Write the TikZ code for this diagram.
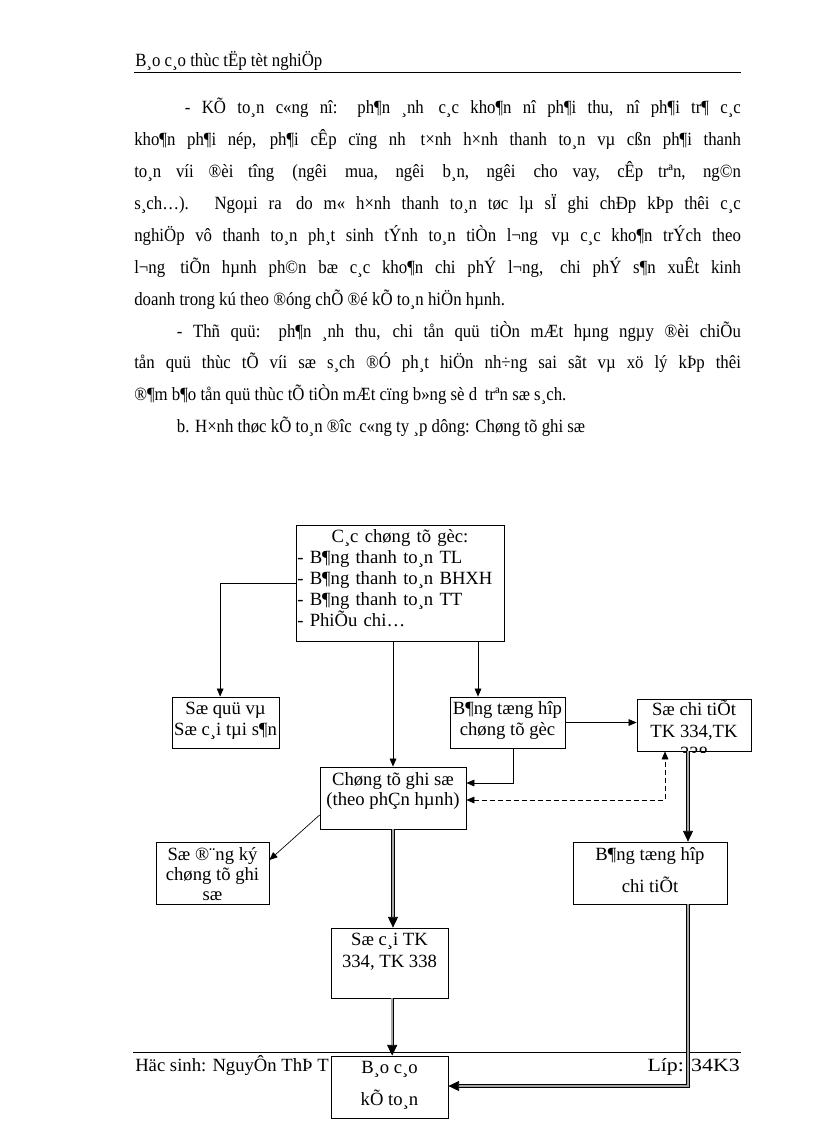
\documentclass[tikz,border=0pt]{standalone}
\usepackage{fontspec}
\setmainfont{Liberation Serif}
\newfontfamily\bodyfont[FakeStretch=0.9]{Liberation Serif}
\newfontfamily\classfont[FakeStretch=1.17]{Liberation Serif}
\usetikzlibrary{arrows.meta}

% struts that fix where the lines sit in a box
\newcommand{\boxtop}[1]{\rule{0pt}{#1}}
\newcommand{\boxbot}[1]{\rule[-#1]{0pt}{#1}}
% the wider gap Word leaves after some words
\newcommand{\gap}{\hspace{2.5pt} }

\begin{document}
\begin{tikzpicture}[
            x=0.75pt, y=-0.75pt,
            box/.style={rectangle, draw, line width=0.6pt, fill=white, align=center, inner xsep=1pt, inner ysep=0pt, font=\fontsize{14}{#1}\selectfont},
            box/.default=15.75pt,
            arrow/.style={-{Triangle[length=6pt, width=5pt]}, line width=0.5pt},
            dasharrow/.style={{Triangle[length=6pt, width=5pt]}-{Triangle[length=6pt, width=5pt]}, line width=0.5pt, dash pattern=on 3.5pt off 2.5pt},
            dblarrow/.style={-{Triangle[length=8pt, width=7.5pt]}, line width=0.5pt, double=gray!70, double distance=1.5pt},
            pagetext/.style={inner sep=0pt, font=\fontsize{14}{16}\bodyfont}
        ]
\useasboundingbox (0,0) rectangle (816,1123);

% Page header
            \node[pagetext, anchor=base west] (header) at (135,67) {B¸o c¸o thùc tËp tèt nghiÖp};
            \draw[line width=0.6pt] (134,72) -- (741,72);

% Body text
            \node[pagetext, anchor=base west, text width=455pt, align=justify, font=\fontsize{14}{23.9}\bodyfont] (bodytext) at (134,114) {%
\hspace*{38pt}- KÕ to¸n c«ng nî: ph¶n ¸nh\gap c¸c kho¶n nî ph¶i thu, nî ph¶i tr¶ c¸c\linebreak
kho¶n ph¶i nép, ph¶i cÊp cïng nh\gap t×nh h×nh thanh to¸n vµ cßn ph¶i thanh\linebreak
to¸n víi ®èi tîng\gap (ngêi\gap mua, ngêi\gap b¸n, ngêi\gap cho vay, cÊp trªn, ng©n\linebreak
s¸ch…). Ngoµi ra\gap do m« h×nh thanh to¸n tøc lµ sÏ ghi chÐp kÞp thêi c¸c\linebreak
nghiÖp vô thanh to¸n ph¸t sinh tÝnh to¸n tiÒn l¬ng\gap vµ c¸c kho¶n trÝch theo\linebreak
l¬ng\gap tiÕn hµnh ph©n bæ c¸c kho¶n chi phÝ l¬ng,\gap chi phÝ s¶n xuÊt kinh\linebreak
doanh trong kú theo ®óng chÕ ®é kÕ to¸n hiÖn hµnh.\par
\hspace*{32pt}- Thñ quü: ph¶n ¸nh thu, chi tån quü tiÒn mÆt hµng ngµy ®èi chiÕu\linebreak
tån quü thùc tÕ víi sæ s¸ch ®Ó ph¸t hiÖn nh÷ng sai sãt vµ xö lý kÞp thêi\linebreak
®¶m b¶o tån quü thùc tÕ tiÒn mÆt cïng b»ng sè d\gap trªn sæ s¸ch.\par
\hspace*{32pt}b. H×nh thøc kÕ to¸n ®îc\gap c«ng ty ¸p dông: Chøng tõ ghi sæ};

% Page footer
            \draw[line width=0.6pt] (133,1052) -- (741,1052);
            \node[pagetext, anchor=base west, font=\fontsize{14}{16}\selectfont] (student) at (135,1071) {Häc sinh: NguyÔn ThÞ T};
            \node[pagetext, anchor=base east, font=\fontsize{14}{16}\classfont] (class) at (740,1071) {Líp: 34K3};

% Boxes
            \node[box, text width=154pt, align=left] (goc) at (400,583) {\boxtop{12.75pt}\makebox[154pt]{C¸c chøng tõ gèc:}\\- B¶ng thanh to¸n TL\\- B¶ng thanh to¸n BHXH\\- B¶ng thanh to¸n TT\\- PhiÕu chi…\boxbot{11.25pt}};
            \node[box, minimum width=80.25pt] (soquy) at (225.5,722.5) {\boxtop{12.75pt}Sæ quü vµ\\Sæ c¸i tµi s¶n\boxbot{9.75pt}};
            \node[box, minimum width=86.25pt] (tonghop) at (507.5,722.5) {\boxtop{12.75pt}B¶ng tæng hîp\\chøng tõ gèc\boxbot{9.75pt}};
            \node[box=16.5pt, minimum width=85.5pt] (chitiet) at (694,725) {\boxtop{12pt}Sæ chi tiÕt\\TK 334,TK\boxbot{10.5pt}};
            \begin{scope}
                \clip (chitiet.north west) rectangle ([yshift=-0.6pt]chitiet.south east);
                \node[inner sep=0pt, font=\fontsize{14}{16}\selectfont, anchor=base] (chitiet3) at (694,759) {338};
            \end{scope}
            \node[box=15pt, minimum width=109.5pt] (ctgs) at (393,798) {\boxtop{13.5pt}Chøng tõ ghi sæ\\(theo phÇn hµnh)\boxbot{18pt}};
            \node[box=24pt, minimum width=115.5pt] (thchitiet) at (650,873) {\boxtop{13.5pt}B¶ng tæng hîp\\chi tiÕt\boxbot{9pt}};
            \node[box=15pt, minimum width=84.75pt] (dangky) at (212.5,873) {\boxtop{13.5pt}Sæ ®¨ng ký\\chøng tõ ghi\\sæ\boxbot{3pt}};
            \node[box=16.5pt, minimum width=87.75pt] (socai) at (389.5,963) {\boxtop{12.75pt}Sæ c¸i TK\\334, TK 338\boxbot{23.25pt}};
            \node[box=24pt, minimum width=87.75pt] (baocao) at (389.5,1087) {\boxtop{12.75pt}B¸o c¸o\\kÕ to¸n\boxbot{9.75pt}};

% Thin flow
            \draw[arrow] (goc.west) -| ([xshift=-4pt]soquy.north);
            \draw[arrow] ([xshift=58.5pt]goc.south) -- ([xshift=58.5pt]goc.south |- tonghop.north);
            \draw[arrow] (ctgs.north |- goc.south) -- (ctgs.north);
            \draw[arrow] (tonghop.east) -- (tonghop.east -| chitiet.west);
            \draw[arrow] ([xshift=4pt]tonghop.south) |- ([yshift=11.25pt]ctgs.east);
            \draw[dasharrow] ([yshift=-1.5pt]ctgs.east) -| ([xshift=-21.75pt]chitiet.south);
            \draw[arrow] ([yshift=-12.75pt]ctgs.west) -- ([yshift=9.75pt]dangky.east);

% Double flow
            \draw[dblarrow] ([xshift=-4.5pt]chitiet.south) -- ([xshift=-4.5pt]chitiet.south |- thchitiet.north);
            \draw[dblarrow] (ctgs.south) -- (ctgs.south |- socai.north);
            \draw[dblarrow] ([xshift=2pt]socai.south) -- ([xshift=2pt]socai.south |- baocao.north);
            \draw[dblarrow] ([xshift=28.5pt]thchitiet.south) |- ([yshift=0.75pt]baocao.east);

        \end{tikzpicture}
\end{document}
